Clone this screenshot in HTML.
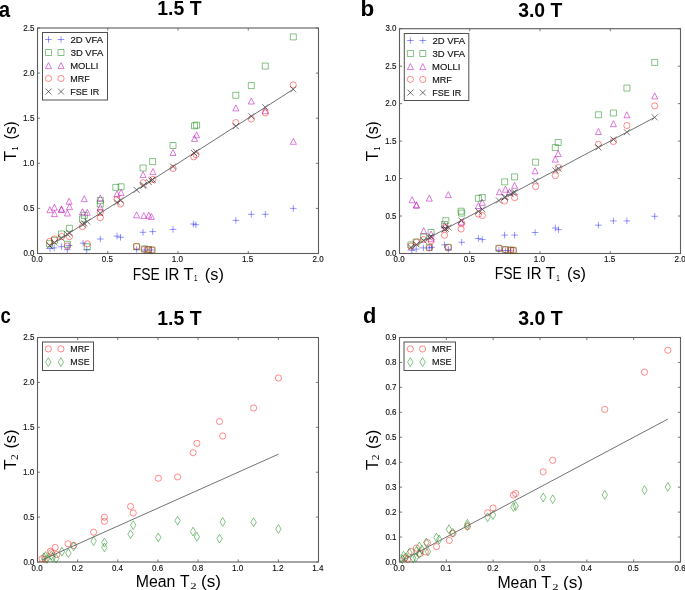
<!DOCTYPE html>
<html><head><meta charset="utf-8"><title>T1 T2 comparison</title>
<style>
html,body{margin:0;padding:0;background:#fff;}
body{width:685px;height:590px;overflow:hidden;}
svg{display:block;filter:blur(0.4px);font-family:"Liberation Sans", sans-serif;}
</style></head><body>
<svg width="685" height="590" viewBox="0 0 685 590">
<rect width="685" height="590" fill="#fff"/>
<path d="M37.50 253.5V250.9M37.50 28.0V30.6M107.75 253.5V250.9M107.75 28.0V30.6M178.00 253.5V250.9M178.00 28.0V30.6M248.25 253.5V250.9M248.25 28.0V30.6M318.50 253.5V250.9M318.50 28.0V30.6M37.5 253.50H40.1M318.5 253.50H315.9M37.5 208.40H40.1M318.5 208.40H315.9M37.5 163.30H40.1M318.5 163.30H315.9M37.5 118.20H40.1M318.5 118.20H315.9M37.5 73.10H40.1M318.5 73.10H315.9M37.5 28.00H40.1M318.5 28.00H315.9" stroke="#555" stroke-width="0.8" fill="none"/>
<rect x="37.5" y="28.0" width="281.0" height="225.5" fill="none" stroke="#5c5c5c" stroke-width="1.1"/>
<text x="31.59" y="262.00" font-family='"Liberation Sans", sans-serif' font-size="8.4" font-weight="normal" textLength="11.02" lengthAdjust="spacingAndGlyphs" fill="#111" stroke="#111" stroke-width="0.14">0.0</text><text x="101.84" y="262.00" font-family='"Liberation Sans", sans-serif' font-size="8.4" font-weight="normal" textLength="11.04" lengthAdjust="spacingAndGlyphs" fill="#111" stroke="#111" stroke-width="0.14">0.5</text><text x="171.78" y="262.00" font-family='"Liberation Sans", sans-serif' font-size="8.4" font-weight="normal" textLength="11.34" lengthAdjust="spacingAndGlyphs" fill="#111" stroke="#111" stroke-width="0.14">1.0</text><text x="242.03" y="262.00" font-family='"Liberation Sans", sans-serif' font-size="8.4" font-weight="normal" textLength="11.37" lengthAdjust="spacingAndGlyphs" fill="#111" stroke="#111" stroke-width="0.14">1.5</text><text x="312.50" y="262.00" font-family='"Liberation Sans", sans-serif' font-size="8.4" font-weight="normal" textLength="11.11" lengthAdjust="spacingAndGlyphs" fill="#111" stroke="#111" stroke-width="0.14">2.0</text><text x="23.39" y="256.10" font-family='"Liberation Sans", sans-serif' font-size="8.4" font-weight="normal" textLength="11.02" lengthAdjust="spacingAndGlyphs" fill="#111" stroke="#111" stroke-width="0.14">0.0</text><text x="23.39" y="211.00" font-family='"Liberation Sans", sans-serif' font-size="8.4" font-weight="normal" textLength="11.04" lengthAdjust="spacingAndGlyphs" fill="#111" stroke="#111" stroke-width="0.14">0.5</text><text x="23.08" y="165.90" font-family='"Liberation Sans", sans-serif' font-size="8.4" font-weight="normal" textLength="11.34" lengthAdjust="spacingAndGlyphs" fill="#111" stroke="#111" stroke-width="0.14">1.0</text><text x="23.08" y="120.80" font-family='"Liberation Sans", sans-serif' font-size="8.4" font-weight="normal" textLength="11.37" lengthAdjust="spacingAndGlyphs" fill="#111" stroke="#111" stroke-width="0.14">1.5</text><text x="23.30" y="75.70" font-family='"Liberation Sans", sans-serif' font-size="8.4" font-weight="normal" textLength="11.11" lengthAdjust="spacingAndGlyphs" fill="#111" stroke="#111" stroke-width="0.14">2.0</text><text x="23.30" y="30.60" font-family='"Liberation Sans", sans-serif' font-size="8.4" font-weight="normal" textLength="11.14" lengthAdjust="spacingAndGlyphs" fill="#111" stroke="#111" stroke-width="0.14">2.5</text>
<path d="M399.50 253.5V250.9M399.50 28.7V31.3M469.75 253.5V250.9M469.75 28.7V31.3M540.00 253.5V250.9M540.00 28.7V31.3M610.25 253.5V250.9M610.25 28.7V31.3M680.50 253.5V250.9M680.50 28.7V31.3M399.5 253.50H402.1M680.5 253.50H677.9M399.5 216.03H402.1M680.5 216.03H677.9M399.5 178.57H402.1M680.5 178.57H677.9M399.5 141.10H402.1M680.5 141.10H677.9M399.5 103.63H402.1M680.5 103.63H677.9M399.5 66.17H402.1M680.5 66.17H677.9M399.5 28.70H402.1M680.5 28.70H677.9" stroke="#555" stroke-width="0.8" fill="none"/>
<rect x="399.5" y="28.7" width="281.0" height="224.8" fill="none" stroke="#5c5c5c" stroke-width="1.1"/>
<text x="393.59" y="262.00" font-family='"Liberation Sans", sans-serif' font-size="8.4" font-weight="normal" textLength="11.02" lengthAdjust="spacingAndGlyphs" fill="#111" stroke="#111" stroke-width="0.14">0.0</text><text x="463.84" y="262.00" font-family='"Liberation Sans", sans-serif' font-size="8.4" font-weight="normal" textLength="11.04" lengthAdjust="spacingAndGlyphs" fill="#111" stroke="#111" stroke-width="0.14">0.5</text><text x="533.78" y="262.00" font-family='"Liberation Sans", sans-serif' font-size="8.4" font-weight="normal" textLength="11.34" lengthAdjust="spacingAndGlyphs" fill="#111" stroke="#111" stroke-width="0.14">1.0</text><text x="604.03" y="262.00" font-family='"Liberation Sans", sans-serif' font-size="8.4" font-weight="normal" textLength="11.37" lengthAdjust="spacingAndGlyphs" fill="#111" stroke="#111" stroke-width="0.14">1.5</text><text x="674.50" y="262.00" font-family='"Liberation Sans", sans-serif' font-size="8.4" font-weight="normal" textLength="11.11" lengthAdjust="spacingAndGlyphs" fill="#111" stroke="#111" stroke-width="0.14">2.0</text><text x="385.39" y="256.10" font-family='"Liberation Sans", sans-serif' font-size="8.4" font-weight="normal" textLength="11.02" lengthAdjust="spacingAndGlyphs" fill="#111" stroke="#111" stroke-width="0.14">0.0</text><text x="385.39" y="218.63" font-family='"Liberation Sans", sans-serif' font-size="8.4" font-weight="normal" textLength="11.04" lengthAdjust="spacingAndGlyphs" fill="#111" stroke="#111" stroke-width="0.14">0.5</text><text x="385.08" y="181.17" font-family='"Liberation Sans", sans-serif' font-size="8.4" font-weight="normal" textLength="11.34" lengthAdjust="spacingAndGlyphs" fill="#111" stroke="#111" stroke-width="0.14">1.0</text><text x="385.08" y="143.70" font-family='"Liberation Sans", sans-serif' font-size="8.4" font-weight="normal" textLength="11.37" lengthAdjust="spacingAndGlyphs" fill="#111" stroke="#111" stroke-width="0.14">1.5</text><text x="385.30" y="106.23" font-family='"Liberation Sans", sans-serif' font-size="8.4" font-weight="normal" textLength="11.11" lengthAdjust="spacingAndGlyphs" fill="#111" stroke="#111" stroke-width="0.14">2.0</text><text x="385.30" y="68.77" font-family='"Liberation Sans", sans-serif' font-size="8.4" font-weight="normal" textLength="11.14" lengthAdjust="spacingAndGlyphs" fill="#111" stroke="#111" stroke-width="0.14">2.5</text><text x="385.40" y="31.30" font-family='"Liberation Sans", sans-serif' font-size="8.4" font-weight="normal" textLength="11.01" lengthAdjust="spacingAndGlyphs" fill="#111" stroke="#111" stroke-width="0.14">3.0</text>
<path d="M37.50 562.0V559.4M37.50 337.5V340.1M77.64 562.0V559.4M77.64 337.5V340.1M117.79 562.0V559.4M117.79 337.5V340.1M157.93 562.0V559.4M157.93 337.5V340.1M198.07 562.0V559.4M198.07 337.5V340.1M238.21 562.0V559.4M238.21 337.5V340.1M278.36 562.0V559.4M278.36 337.5V340.1M318.50 562.0V559.4M318.50 337.5V340.1M37.5 562.00H40.1M318.5 562.00H315.9M37.5 517.10H40.1M318.5 517.10H315.9M37.5 472.20H40.1M318.5 472.20H315.9M37.5 427.30H40.1M318.5 427.30H315.9M37.5 382.40H40.1M318.5 382.40H315.9M37.5 337.50H40.1M318.5 337.50H315.9" stroke="#555" stroke-width="0.8" fill="none"/>
<rect x="37.5" y="337.5" width="281.0" height="224.5" fill="none" stroke="#5c5c5c" stroke-width="1.1"/>
<text x="31.59" y="570.50" font-family='"Liberation Sans", sans-serif' font-size="8.4" font-weight="normal" textLength="11.02" lengthAdjust="spacingAndGlyphs" fill="#111" stroke="#111" stroke-width="0.14">0.0</text><text x="71.73" y="570.50" font-family='"Liberation Sans", sans-serif' font-size="8.4" font-weight="normal" textLength="11.11" lengthAdjust="spacingAndGlyphs" fill="#111" stroke="#111" stroke-width="0.14">0.2</text><text x="111.88" y="570.50" font-family='"Liberation Sans", sans-serif' font-size="8.4" font-weight="normal" textLength="10.94" lengthAdjust="spacingAndGlyphs" fill="#111" stroke="#111" stroke-width="0.14">0.4</text><text x="152.02" y="570.50" font-family='"Liberation Sans", sans-serif' font-size="8.4" font-weight="normal" textLength="11.06" lengthAdjust="spacingAndGlyphs" fill="#111" stroke="#111" stroke-width="0.14">0.6</text><text x="192.16" y="570.50" font-family='"Liberation Sans", sans-serif' font-size="8.4" font-weight="normal" textLength="11.06" lengthAdjust="spacingAndGlyphs" fill="#111" stroke="#111" stroke-width="0.14">0.8</text><text x="231.99" y="570.50" font-family='"Liberation Sans", sans-serif' font-size="8.4" font-weight="normal" textLength="11.34" lengthAdjust="spacingAndGlyphs" fill="#111" stroke="#111" stroke-width="0.14">1.0</text><text x="272.13" y="570.50" font-family='"Liberation Sans", sans-serif' font-size="8.4" font-weight="normal" textLength="11.44" lengthAdjust="spacingAndGlyphs" fill="#111" stroke="#111" stroke-width="0.14">1.2</text><text x="312.28" y="570.50" font-family='"Liberation Sans", sans-serif' font-size="8.4" font-weight="normal" textLength="11.25" lengthAdjust="spacingAndGlyphs" fill="#111" stroke="#111" stroke-width="0.14">1.4</text><text x="23.39" y="564.60" font-family='"Liberation Sans", sans-serif' font-size="8.4" font-weight="normal" textLength="11.02" lengthAdjust="spacingAndGlyphs" fill="#111" stroke="#111" stroke-width="0.14">0.0</text><text x="23.39" y="519.70" font-family='"Liberation Sans", sans-serif' font-size="8.4" font-weight="normal" textLength="11.04" lengthAdjust="spacingAndGlyphs" fill="#111" stroke="#111" stroke-width="0.14">0.5</text><text x="23.08" y="474.80" font-family='"Liberation Sans", sans-serif' font-size="8.4" font-weight="normal" textLength="11.34" lengthAdjust="spacingAndGlyphs" fill="#111" stroke="#111" stroke-width="0.14">1.0</text><text x="23.08" y="429.90" font-family='"Liberation Sans", sans-serif' font-size="8.4" font-weight="normal" textLength="11.37" lengthAdjust="spacingAndGlyphs" fill="#111" stroke="#111" stroke-width="0.14">1.5</text><text x="23.30" y="385.00" font-family='"Liberation Sans", sans-serif' font-size="8.4" font-weight="normal" textLength="11.11" lengthAdjust="spacingAndGlyphs" fill="#111" stroke="#111" stroke-width="0.14">2.0</text><text x="23.30" y="340.10" font-family='"Liberation Sans", sans-serif' font-size="8.4" font-weight="normal" textLength="11.14" lengthAdjust="spacingAndGlyphs" fill="#111" stroke="#111" stroke-width="0.14">2.5</text>
<path d="M399.50 562.0V559.4M399.50 337.5V340.1M446.33 562.0V559.4M446.33 337.5V340.1M493.17 562.0V559.4M493.17 337.5V340.1M540.00 562.0V559.4M540.00 337.5V340.1M586.83 562.0V559.4M586.83 337.5V340.1M633.67 562.0V559.4M633.67 337.5V340.1M680.50 562.0V559.4M680.50 337.5V340.1M399.5 562.00H402.1M680.5 562.00H677.9M399.5 537.06H402.1M680.5 537.06H677.9M399.5 512.11H402.1M680.5 512.11H677.9M399.5 487.17H402.1M680.5 487.17H677.9M399.5 462.22H402.1M680.5 462.22H677.9M399.5 437.28H402.1M680.5 437.28H677.9M399.5 412.33H402.1M680.5 412.33H677.9M399.5 387.39H402.1M680.5 387.39H677.9M399.5 362.44H402.1M680.5 362.44H677.9M399.5 337.50H402.1M680.5 337.50H677.9" stroke="#555" stroke-width="0.8" fill="none"/>
<rect x="399.5" y="337.5" width="281.0" height="224.5" fill="none" stroke="#5c5c5c" stroke-width="1.1"/>
<text x="393.59" y="570.50" font-family='"Liberation Sans", sans-serif' font-size="8.4" font-weight="normal" textLength="11.02" lengthAdjust="spacingAndGlyphs" fill="#111" stroke="#111" stroke-width="0.14">0.0</text><text x="440.42" y="570.50" font-family='"Liberation Sans", sans-serif' font-size="8.4" font-weight="normal" textLength="11.10" lengthAdjust="spacingAndGlyphs" fill="#111" stroke="#111" stroke-width="0.14">0.1</text><text x="487.25" y="570.50" font-family='"Liberation Sans", sans-serif' font-size="8.4" font-weight="normal" textLength="11.11" lengthAdjust="spacingAndGlyphs" fill="#111" stroke="#111" stroke-width="0.14">0.2</text><text x="534.09" y="570.50" font-family='"Liberation Sans", sans-serif' font-size="8.4" font-weight="normal" textLength="11.06" lengthAdjust="spacingAndGlyphs" fill="#111" stroke="#111" stroke-width="0.14">0.3</text><text x="580.93" y="570.50" font-family='"Liberation Sans", sans-serif' font-size="8.4" font-weight="normal" textLength="10.94" lengthAdjust="spacingAndGlyphs" fill="#111" stroke="#111" stroke-width="0.14">0.4</text><text x="627.76" y="570.50" font-family='"Liberation Sans", sans-serif' font-size="8.4" font-weight="normal" textLength="11.04" lengthAdjust="spacingAndGlyphs" fill="#111" stroke="#111" stroke-width="0.14">0.5</text><text x="674.59" y="570.50" font-family='"Liberation Sans", sans-serif' font-size="8.4" font-weight="normal" textLength="11.06" lengthAdjust="spacingAndGlyphs" fill="#111" stroke="#111" stroke-width="0.14">0.6</text><text x="385.39" y="564.60" font-family='"Liberation Sans", sans-serif' font-size="8.4" font-weight="normal" textLength="11.02" lengthAdjust="spacingAndGlyphs" fill="#111" stroke="#111" stroke-width="0.14">0.0</text><text x="385.39" y="539.66" font-family='"Liberation Sans", sans-serif' font-size="8.4" font-weight="normal" textLength="11.10" lengthAdjust="spacingAndGlyphs" fill="#111" stroke="#111" stroke-width="0.14">0.1</text><text x="385.39" y="514.71" font-family='"Liberation Sans", sans-serif' font-size="8.4" font-weight="normal" textLength="11.11" lengthAdjust="spacingAndGlyphs" fill="#111" stroke="#111" stroke-width="0.14">0.2</text><text x="385.39" y="489.77" font-family='"Liberation Sans", sans-serif' font-size="8.4" font-weight="normal" textLength="11.06" lengthAdjust="spacingAndGlyphs" fill="#111" stroke="#111" stroke-width="0.14">0.3</text><text x="385.39" y="464.82" font-family='"Liberation Sans", sans-serif' font-size="8.4" font-weight="normal" textLength="10.94" lengthAdjust="spacingAndGlyphs" fill="#111" stroke="#111" stroke-width="0.14">0.4</text><text x="385.39" y="439.88" font-family='"Liberation Sans", sans-serif' font-size="8.4" font-weight="normal" textLength="11.04" lengthAdjust="spacingAndGlyphs" fill="#111" stroke="#111" stroke-width="0.14">0.5</text><text x="385.39" y="414.93" font-family='"Liberation Sans", sans-serif' font-size="8.4" font-weight="normal" textLength="11.06" lengthAdjust="spacingAndGlyphs" fill="#111" stroke="#111" stroke-width="0.14">0.6</text><text x="385.39" y="389.99" font-family='"Liberation Sans", sans-serif' font-size="8.4" font-weight="normal" textLength="11.11" lengthAdjust="spacingAndGlyphs" fill="#111" stroke="#111" stroke-width="0.14">0.7</text><text x="385.39" y="365.04" font-family='"Liberation Sans", sans-serif' font-size="8.4" font-weight="normal" textLength="11.06" lengthAdjust="spacingAndGlyphs" fill="#111" stroke="#111" stroke-width="0.14">0.8</text><text x="385.39" y="340.10" font-family='"Liberation Sans", sans-serif' font-size="8.4" font-weight="normal" textLength="11.09" lengthAdjust="spacingAndGlyphs" fill="#111" stroke="#111" stroke-width="0.14">0.9</text>
<g fill="none" stroke="#0000ff" stroke-opacity="0.52" stroke-width="0.8"><path d="M46.80 248.50H53.40M50.10 245.20V251.80"/><path d="M50.90 247.90H57.50M54.20 244.60V251.20"/><path d="M58.10 246.70H64.70M61.40 243.40V250.00"/><path d="M64.00 249.70H70.60M67.30 246.40V253.00"/><path d="M65.80 245.50H72.40M69.10 242.20V248.80"/><path d="M79.80 243.20H86.40M83.10 239.90V246.50"/><path d="M83.40 249.70H90.00M86.70 246.40V253.00"/><path d="M97.00 239.00H103.60M100.30 235.70V242.30"/><path d="M113.70 236.10H120.30M117.00 232.80V239.40"/><path d="M117.20 237.30H123.80M120.50 234.00V240.60"/><path d="M133.30 249.40H139.90M136.60 246.10V252.70"/><path d="M139.70 232.30H146.30M143.00 229.00V235.60"/><path d="M141.00 250.00H147.60M144.30 246.70V253.30"/><path d="M147.70 250.00H154.30M151.00 246.70V253.30"/><path d="M149.40 231.60H156.00M152.70 228.30V234.90"/><path d="M169.70 229.40H176.30M173.00 226.10V232.70"/><path d="M190.10 224.00H196.70M193.40 220.70V227.30"/><path d="M192.60 224.80H199.20M195.90 221.50V228.10"/><path d="M232.50 220.40H239.10M235.80 217.10V223.70"/><path d="M248.00 214.30H254.60M251.30 211.00V217.60"/><path d="M262.00 214.30H268.60M265.30 211.00V217.60"/><path d="M290.00 208.40H296.60M293.30 205.10V211.70"/></g>
<g fill="none" stroke="#008000" stroke-opacity="0.5" stroke-width="0.95"><path d="M46.50 240.70h6.00v6.00h-6.00Z"/><path d="M51.50 237.30h6.00v6.00h-6.00Z"/><path d="M58.50 231.00h6.00v6.00h-6.00Z"/><path d="M66.40 225.30h6.00v6.00h-6.00Z"/><path d="M64.60 241.30h6.00v6.00h-6.00Z"/><path d="M79.50 215.80h6.00v6.00h-6.00Z"/><path d="M81.30 212.30h6.00v6.00h-6.00Z"/><path d="M84.30 243.80h6.00v6.00h-6.00Z"/><path d="M97.30 197.40h6.00v6.00h-6.00Z"/><path d="M97.30 201.00h6.00v6.00h-6.00Z"/><path d="M112.80 184.40h6.00v6.00h-6.00Z"/><path d="M118.10 183.80h6.00v6.00h-6.00Z"/><path d="M133.60 243.80h6.00v6.00h-6.00Z"/><path d="M141.30 245.90h6.00v6.00h-6.00Z"/><path d="M145.50 246.50h6.00v6.00h-6.00Z"/><path d="M149.00 247.00h6.00v6.00h-6.00Z"/><path d="M140.10 165.00h6.00v6.00h-6.00Z"/><path d="M149.60 158.60h6.00v6.00h-6.00Z"/><path d="M170.00 142.50h6.00v6.00h-6.00Z"/><path d="M191.50 122.80h6.00v6.00h-6.00Z"/><path d="M193.60 122.10h6.00v6.00h-6.00Z"/><path d="M232.80 92.30h6.00v6.00h-6.00Z"/><path d="M248.30 82.60h6.00v6.00h-6.00Z"/><path d="M262.30 63.10h6.00v6.00h-6.00Z"/><path d="M290.30 33.90h6.00v6.00h-6.00Z"/></g>
<g fill="none" stroke="#bf00bf" stroke-opacity="0.55" stroke-width="0.95"><path d="M49.90 206.70L52.90 212.70L46.90 212.70Z"/><path d="M54.40 204.20L57.40 210.20L51.40 210.20Z"/><path d="M54.50 210.60L57.50 216.60L51.50 216.60Z"/><path d="M61.40 206.00L64.40 212.00L58.40 212.00Z"/><path d="M61.60 206.40L64.60 212.40L58.60 212.40Z"/><path d="M69.10 198.20L72.10 204.20L66.10 204.20Z"/><path d="M69.50 203.60L72.50 209.60L66.50 209.60Z"/><path d="M67.40 210.00L70.40 216.00L64.40 216.00Z"/><path d="M84.30 195.70L87.30 201.70L81.30 201.70Z"/><path d="M82.50 208.70L85.50 214.70L79.50 214.70Z"/><path d="M87.30 209.30L90.30 215.30L84.30 215.30Z"/><path d="M100.30 195.10L103.30 201.10L97.30 201.10Z"/><path d="M100.30 204.00L103.30 210.00L97.30 210.00Z"/><path d="M117.00 190.90L120.00 196.90L114.00 196.90Z"/><path d="M121.10 189.40L124.10 195.40L118.10 195.40Z"/><path d="M136.60 211.80L139.60 217.80L133.60 217.80Z"/><path d="M143.80 212.60L146.80 218.60L140.80 218.60Z"/><path d="M148.80 212.10L151.80 218.10L145.80 218.10Z"/><path d="M151.40 213.50L154.40 219.50L148.40 219.50Z"/><path d="M143.10 171.60L146.10 177.60L140.10 177.60Z"/><path d="M152.90 168.60L155.90 174.60L149.90 174.60Z"/><path d="M173.00 149.50L176.00 155.50L170.00 155.50Z"/><path d="M194.50 135.40L197.50 141.40L191.50 141.40Z"/><path d="M196.60 131.80L199.60 137.80L193.60 137.80Z"/><path d="M235.80 104.90L238.80 110.90L232.80 110.90Z"/><path d="M251.30 98.00L254.30 104.00L248.30 104.00Z"/><path d="M265.30 107.70L268.30 113.70L262.30 113.70Z"/><path d="M293.40 138.30L296.40 144.30L290.40 144.30Z"/></g>
<g fill="none" stroke="#ff0000" stroke-opacity="0.48" stroke-width="0.95"><path d="M46.70 241.40a3.1 3.1 0 1 0 6.20 0a3.1 3.1 0 1 0 -6.20 0Z"/><path d="M51.10 239.00a3.1 3.1 0 1 0 6.20 0a3.1 3.1 0 1 0 -6.20 0Z"/><path d="M58.60 236.60a3.1 3.1 0 1 0 6.20 0a3.1 3.1 0 1 0 -6.20 0Z"/><path d="M66.30 236.60a3.1 3.1 0 1 0 6.20 0a3.1 3.1 0 1 0 -6.20 0Z"/><path d="M64.20 246.10a3.1 3.1 0 1 0 6.20 0a3.1 3.1 0 1 0 -6.20 0Z"/><path d="M79.40 226.60a3.1 3.1 0 1 0 6.20 0a3.1 3.1 0 1 0 -6.20 0Z"/><path d="M84.20 243.80a3.1 3.1 0 1 0 6.20 0a3.1 3.1 0 1 0 -6.20 0Z"/><path d="M97.20 212.30a3.1 3.1 0 1 0 6.20 0a3.1 3.1 0 1 0 -6.20 0Z"/><path d="M97.20 217.70a3.1 3.1 0 1 0 6.20 0a3.1 3.1 0 1 0 -6.20 0Z"/><path d="M113.90 199.30a3.1 3.1 0 1 0 6.20 0a3.1 3.1 0 1 0 -6.20 0Z"/><path d="M117.40 204.00a3.1 3.1 0 1 0 6.20 0a3.1 3.1 0 1 0 -6.20 0Z"/><path d="M133.50 246.30a3.1 3.1 0 1 0 6.20 0a3.1 3.1 0 1 0 -6.20 0Z"/><path d="M141.20 249.30a3.1 3.1 0 1 0 6.20 0a3.1 3.1 0 1 0 -6.20 0Z"/><path d="M145.30 249.70a3.1 3.1 0 1 0 6.20 0a3.1 3.1 0 1 0 -6.20 0Z"/><path d="M148.90 250.00a3.1 3.1 0 1 0 6.20 0a3.1 3.1 0 1 0 -6.20 0Z"/><path d="M140.00 182.80a3.1 3.1 0 1 0 6.20 0a3.1 3.1 0 1 0 -6.20 0Z"/><path d="M149.80 179.50a3.1 3.1 0 1 0 6.20 0a3.1 3.1 0 1 0 -6.20 0Z"/><path d="M169.90 168.50a3.1 3.1 0 1 0 6.20 0a3.1 3.1 0 1 0 -6.20 0Z"/><path d="M190.60 156.80a3.1 3.1 0 1 0 6.20 0a3.1 3.1 0 1 0 -6.20 0Z"/><path d="M192.80 154.60a3.1 3.1 0 1 0 6.20 0a3.1 3.1 0 1 0 -6.20 0Z"/><path d="M232.70 122.60a3.1 3.1 0 1 0 6.20 0a3.1 3.1 0 1 0 -6.20 0Z"/><path d="M248.20 119.00a3.1 3.1 0 1 0 6.20 0a3.1 3.1 0 1 0 -6.20 0Z"/><path d="M262.20 112.90a3.1 3.1 0 1 0 6.20 0a3.1 3.1 0 1 0 -6.20 0Z"/><path d="M290.10 84.90a3.1 3.1 0 1 0 6.20 0a3.1 3.1 0 1 0 -6.20 0Z"/></g>
<g fill="none" stroke="#000000" stroke-opacity="0.64" stroke-width="0.85"><path d="M46.70 242.67L52.70 248.67M46.70 248.67L52.70 242.67"/><path d="M51.40 239.65L57.40 245.65M51.40 245.65L57.40 239.65"/><path d="M58.40 235.16L64.40 241.16M58.40 241.16L64.40 235.16"/><path d="M64.40 231.30L70.40 237.30M64.40 237.30L70.40 231.30"/><path d="M66.40 230.02L72.40 236.02M66.40 236.02L72.40 230.02"/><path d="M79.50 221.61L85.50 227.61M79.50 227.61L85.50 221.61"/><path d="M81.30 220.45L87.30 226.45M81.30 226.45L87.30 220.45"/><path d="M84.30 218.53L90.30 224.53M84.30 224.53L90.30 218.53"/><path d="M97.30 210.18L103.30 216.18M97.30 216.18L103.30 210.18"/><path d="M114.00 199.46L120.00 205.46M114.00 205.46L120.00 199.46"/><path d="M117.50 197.21L123.50 203.21M117.50 203.21L123.50 197.21"/><path d="M133.60 186.88L139.60 192.88M133.60 192.88L139.60 186.88"/><path d="M140.10 182.71L146.10 188.71M140.10 188.71L146.10 182.71"/><path d="M140.80 182.26L146.80 188.26M140.80 188.26L146.80 182.26"/><path d="M145.80 179.05L151.80 185.05M145.80 185.05L151.80 179.05"/><path d="M148.40 177.38L154.40 183.38M148.40 183.38L154.40 177.38"/><path d="M149.60 176.61L155.60 182.61M149.60 182.61L155.60 176.61"/><path d="M170.00 163.51L176.00 169.51M170.00 169.51L176.00 163.51"/><path d="M191.00 150.03L197.00 156.03M191.00 156.03L197.00 150.03"/><path d="M193.00 148.74L199.00 154.74M193.00 154.74L199.00 148.74"/><path d="M232.80 123.19L238.80 129.19M232.80 129.19L238.80 123.19"/><path d="M248.30 113.24L254.30 119.24M248.30 119.24L254.30 113.24"/><path d="M262.30 104.25L268.30 110.25M262.30 110.25L268.30 104.25"/><path d="M290.20 86.34L296.20 92.34M290.20 92.34L296.20 86.34"/></g>
<line x1="49.7" y1="245.67" x2="293.2" y2="89.34" stroke="#6a6a6a" stroke-width="0.95"/>
<g fill="none" stroke="#0000ff" stroke-opacity="0.52" stroke-width="0.8"><path d="M408.50 250.30H415.10M411.80 247.00V253.60"/><path d="M412.90 249.10H419.50M416.20 245.80V252.40"/><path d="M420.10 247.90H426.70M423.40 244.60V251.20"/><path d="M426.00 247.90H432.60M429.30 244.60V251.20"/><path d="M428.40 247.30H435.00M431.70 244.00V250.60"/><path d="M441.20 244.90H447.80M444.50 241.60V248.20"/><path d="M445.00 249.30H451.60M448.30 246.00V252.60"/><path d="M458.40 242.30H465.00M461.70 239.00V245.60"/><path d="M475.10 238.50H481.70M478.40 235.20V241.80"/><path d="M479.00 239.60H485.60M482.30 236.30V242.90"/><path d="M495.60 250.30H502.20M498.90 247.00V253.60"/><path d="M501.30 235.10H507.90M504.60 231.80V238.40"/><path d="M502.10 250.50H508.70M505.40 247.20V253.80"/><path d="M507.40 250.80H514.00M510.70 247.50V254.10"/><path d="M511.30 235.10H517.90M514.60 231.80V238.40"/><path d="M531.80 232.50H538.40M535.10 229.20V235.80"/><path d="M552.00 228.00H558.60M555.30 224.70V231.30"/><path d="M555.20 229.60H561.80M558.50 226.30V232.90"/><path d="M595.10 225.20H601.70M598.40 221.90V228.50"/><path d="M610.10 220.90H616.70M613.40 217.60V224.20"/><path d="M623.60 220.90H630.20M626.90 217.60V224.20"/><path d="M651.40 216.30H658.00M654.70 213.00V219.60"/></g>
<g fill="none" stroke="#008000" stroke-opacity="0.5" stroke-width="0.95"><path d="M407.90 241.90h6.00v6.00h-6.00Z"/><path d="M413.20 239.00h6.00v6.00h-6.00Z"/><path d="M420.70 233.90h6.00v6.00h-6.00Z"/><path d="M428.10 229.50h6.00v6.00h-6.00Z"/><path d="M426.30 244.30h6.00v6.00h-6.00Z"/><path d="M441.50 221.50h6.00v6.00h-6.00Z"/><path d="M442.80 217.70h6.00v6.00h-6.00Z"/><path d="M458.10 208.20h6.00v6.00h-6.00Z"/><path d="M458.70 210.10h6.00v6.00h-6.00Z"/><path d="M445.30 244.40h6.00v6.00h-6.00Z"/><path d="M475.40 195.40h6.00v6.00h-6.00Z"/><path d="M479.30 194.60h6.00v6.00h-6.00Z"/><path d="M501.60 178.90h6.00v6.00h-6.00Z"/><path d="M511.60 173.90h6.00v6.00h-6.00Z"/><path d="M532.60 159.20h6.00v6.00h-6.00Z"/><path d="M552.30 144.60h6.00v6.00h-6.00Z"/><path d="M555.20 139.50h6.00v6.00h-6.00Z"/><path d="M495.90 245.30h6.00v6.00h-6.00Z"/><path d="M502.40 246.60h6.00v6.00h-6.00Z"/><path d="M507.70 247.10h6.00v6.00h-6.00Z"/><path d="M510.30 247.40h6.00v6.00h-6.00Z"/><path d="M595.40 111.80h6.00v6.00h-6.00Z"/><path d="M610.40 110.00h6.00v6.00h-6.00Z"/><path d="M623.90 85.10h6.00v6.00h-6.00Z"/><path d="M651.70 59.40h6.00v6.00h-6.00Z"/></g>
<g fill="none" stroke="#bf00bf" stroke-opacity="0.55" stroke-width="0.95"><path d="M412.10 196.70L415.10 202.70L409.10 202.70Z"/><path d="M416.30 201.80L419.30 207.80L413.30 207.80Z"/><path d="M416.50 202.20L419.50 208.20L413.50 208.20Z"/><path d="M429.30 195.10L432.30 201.10L426.30 201.10Z"/><path d="M448.30 191.60L451.30 197.60L445.30 197.60Z"/><path d="M423.70 227.70L426.70 233.70L420.70 233.70Z"/><path d="M431.10 231.00L434.10 237.00L428.10 237.00Z"/><path d="M431.10 235.70L434.10 241.70L428.10 241.70Z"/><path d="M444.50 222.20L447.50 228.20L441.50 228.20Z"/><path d="M461.10 219.00L464.10 225.00L458.10 225.00Z"/><path d="M478.40 202.50L481.40 208.50L475.40 208.50Z"/><path d="M482.30 199.30L485.30 205.30L479.30 205.30Z"/><path d="M499.40 188.80L502.40 194.80L496.40 194.80Z"/><path d="M505.40 186.20L508.40 192.20L502.40 192.20Z"/><path d="M509.40 188.80L512.40 194.80L506.40 194.80Z"/><path d="M514.60 182.30L517.60 188.30L511.60 188.30Z"/><path d="M535.10 167.80L538.10 173.80L532.10 173.80Z"/><path d="M555.20 156.10L558.20 162.10L552.20 162.10Z"/><path d="M558.20 150.50L561.20 156.50L555.20 156.50Z"/><path d="M598.40 128.50L601.40 134.50L595.40 134.50Z"/><path d="M613.40 120.70L616.40 126.70L610.40 126.70Z"/><path d="M626.90 111.80L629.90 117.80L623.90 117.80Z"/><path d="M654.70 92.90L657.70 98.90L651.70 98.90Z"/></g>
<g fill="none" stroke="#ff0000" stroke-opacity="0.48" stroke-width="0.95"><path d="M407.80 246.10a3.1 3.1 0 1 0 6.20 0a3.1 3.1 0 1 0 -6.20 0Z"/><path d="M413.40 242.00a3.1 3.1 0 1 0 6.20 0a3.1 3.1 0 1 0 -6.20 0Z"/><path d="M420.30 239.60a3.1 3.1 0 1 0 6.20 0a3.1 3.1 0 1 0 -6.20 0Z"/><path d="M428.00 240.80a3.1 3.1 0 1 0 6.20 0a3.1 3.1 0 1 0 -6.20 0Z"/><path d="M426.20 247.90a3.1 3.1 0 1 0 6.20 0a3.1 3.1 0 1 0 -6.20 0Z"/><path d="M441.40 235.30a3.1 3.1 0 1 0 6.20 0a3.1 3.1 0 1 0 -6.20 0Z"/><path d="M442.70 227.70a3.1 3.1 0 1 0 6.20 0a3.1 3.1 0 1 0 -6.20 0Z"/><path d="M458.00 229.00a3.1 3.1 0 1 0 6.20 0a3.1 3.1 0 1 0 -6.20 0Z"/><path d="M458.60 223.30a3.1 3.1 0 1 0 6.20 0a3.1 3.1 0 1 0 -6.20 0Z"/><path d="M445.20 247.40a3.1 3.1 0 1 0 6.20 0a3.1 3.1 0 1 0 -6.20 0Z"/><path d="M475.30 214.10a3.1 3.1 0 1 0 6.20 0a3.1 3.1 0 1 0 -6.20 0Z"/><path d="M479.20 215.50a3.1 3.1 0 1 0 6.20 0a3.1 3.1 0 1 0 -6.20 0Z"/><path d="M501.50 201.00a3.1 3.1 0 1 0 6.20 0a3.1 3.1 0 1 0 -6.20 0Z"/><path d="M511.50 197.60a3.1 3.1 0 1 0 6.20 0a3.1 3.1 0 1 0 -6.20 0Z"/><path d="M532.50 186.60a3.1 3.1 0 1 0 6.20 0a3.1 3.1 0 1 0 -6.20 0Z"/><path d="M552.20 175.50a3.1 3.1 0 1 0 6.20 0a3.1 3.1 0 1 0 -6.20 0Z"/><path d="M555.40 167.50a3.1 3.1 0 1 0 6.20 0a3.1 3.1 0 1 0 -6.20 0Z"/><path d="M495.80 248.30a3.1 3.1 0 1 0 6.20 0a3.1 3.1 0 1 0 -6.20 0Z"/><path d="M502.30 249.60a3.1 3.1 0 1 0 6.20 0a3.1 3.1 0 1 0 -6.20 0Z"/><path d="M507.60 250.10a3.1 3.1 0 1 0 6.20 0a3.1 3.1 0 1 0 -6.20 0Z"/><path d="M510.20 250.40a3.1 3.1 0 1 0 6.20 0a3.1 3.1 0 1 0 -6.20 0Z"/><path d="M595.30 144.30a3.1 3.1 0 1 0 6.20 0a3.1 3.1 0 1 0 -6.20 0Z"/><path d="M610.30 141.50a3.1 3.1 0 1 0 6.20 0a3.1 3.1 0 1 0 -6.20 0Z"/><path d="M623.80 125.50a3.1 3.1 0 1 0 6.20 0a3.1 3.1 0 1 0 -6.20 0Z"/><path d="M651.60 105.90a3.1 3.1 0 1 0 6.20 0a3.1 3.1 0 1 0 -6.20 0Z"/></g>
<g fill="none" stroke="#000000" stroke-opacity="0.64" stroke-width="0.85"><path d="M407.90 244.42L413.90 250.42M407.90 250.42L413.90 244.42"/><path d="M413.50 241.43L419.50 247.43M413.50 247.43L419.50 241.43"/><path d="M420.70 237.59L426.70 243.59M420.70 243.59L426.70 237.59"/><path d="M426.30 234.61L432.30 240.61M426.30 240.61L432.30 234.61"/><path d="M428.10 233.65L434.10 239.65M428.10 239.65L434.10 233.65"/><path d="M441.50 226.50L447.50 232.50M441.50 232.50L447.50 226.50"/><path d="M442.80 225.81L448.80 231.81M442.80 231.81L448.80 225.81"/><path d="M445.30 224.47L451.30 230.47M445.30 230.47L451.30 224.47"/><path d="M458.40 217.49L464.40 223.49M458.40 223.49L464.40 217.49"/><path d="M475.40 208.42L481.40 214.42M475.40 214.42L481.40 208.42"/><path d="M479.30 206.34L485.30 212.34M479.30 212.34L485.30 206.34"/><path d="M495.90 197.49L501.90 203.49M495.90 203.49L501.90 197.49"/><path d="M501.60 194.45L507.60 200.45M501.60 200.45L507.60 194.45"/><path d="M502.40 194.02L508.40 200.02M502.40 200.02L508.40 194.02"/><path d="M507.70 191.19L513.70 197.19M507.70 197.19L513.70 191.19"/><path d="M510.30 189.81L516.30 195.81M510.30 195.81L516.30 189.81"/><path d="M511.60 189.11L517.60 195.11M511.60 195.11L517.60 189.11"/><path d="M532.40 178.02L538.40 184.02M532.40 184.02L538.40 178.02"/><path d="M552.30 167.41L558.30 173.41M552.30 173.41L558.30 167.41"/><path d="M555.50 165.70L561.50 171.70M555.50 171.70L561.50 165.70"/><path d="M595.40 144.42L601.40 150.42M595.40 150.42L601.40 144.42"/><path d="M610.40 136.42L616.40 142.42M610.40 142.42L616.40 136.42"/><path d="M623.90 129.22L629.90 135.22M623.90 135.22L629.90 129.22"/><path d="M651.70 114.39L657.70 120.39M651.70 120.39L657.70 114.39"/></g>
<line x1="410.9" y1="247.42" x2="654.7" y2="117.39" stroke="#6a6a6a" stroke-width="0.95"/>
<g fill="none" stroke="#ff0000" stroke-opacity="0.48" stroke-width="0.95"><path d="M275.30 378.00a3.1 3.1 0 1 0 6.20 0a3.1 3.1 0 1 0 -6.20 0Z"/><path d="M250.50 408.00a3.1 3.1 0 1 0 6.20 0a3.1 3.1 0 1 0 -6.20 0Z"/><path d="M216.40 421.50a3.1 3.1 0 1 0 6.20 0a3.1 3.1 0 1 0 -6.20 0Z"/><path d="M219.60 436.00a3.1 3.1 0 1 0 6.20 0a3.1 3.1 0 1 0 -6.20 0Z"/><path d="M193.80 443.40a3.1 3.1 0 1 0 6.20 0a3.1 3.1 0 1 0 -6.20 0Z"/><path d="M190.00 452.70a3.1 3.1 0 1 0 6.20 0a3.1 3.1 0 1 0 -6.20 0Z"/><path d="M174.50 476.90a3.1 3.1 0 1 0 6.20 0a3.1 3.1 0 1 0 -6.20 0Z"/><path d="M155.20 478.20a3.1 3.1 0 1 0 6.20 0a3.1 3.1 0 1 0 -6.20 0Z"/><path d="M127.50 506.50a3.1 3.1 0 1 0 6.20 0a3.1 3.1 0 1 0 -6.20 0Z"/><path d="M130.10 513.00a3.1 3.1 0 1 0 6.20 0a3.1 3.1 0 1 0 -6.20 0Z"/><path d="M101.30 517.20a3.1 3.1 0 1 0 6.20 0a3.1 3.1 0 1 0 -6.20 0Z"/><path d="M101.30 521.40a3.1 3.1 0 1 0 6.20 0a3.1 3.1 0 1 0 -6.20 0Z"/><path d="M90.50 532.20a3.1 3.1 0 1 0 6.20 0a3.1 3.1 0 1 0 -6.20 0Z"/><path d="M65.00 543.70a3.1 3.1 0 1 0 6.20 0a3.1 3.1 0 1 0 -6.20 0Z"/><path d="M70.50 545.50a3.1 3.1 0 1 0 6.20 0a3.1 3.1 0 1 0 -6.20 0Z"/><path d="M52.10 547.50a3.1 3.1 0 1 0 6.20 0a3.1 3.1 0 1 0 -6.20 0Z"/><path d="M47.20 551.30a3.1 3.1 0 1 0 6.20 0a3.1 3.1 0 1 0 -6.20 0Z"/><path d="M48.30 552.80a3.1 3.1 0 1 0 6.20 0a3.1 3.1 0 1 0 -6.20 0Z"/><path d="M53.60 554.50a3.1 3.1 0 1 0 6.20 0a3.1 3.1 0 1 0 -6.20 0Z"/><path d="M39.00 558.60a3.1 3.1 0 1 0 6.20 0a3.1 3.1 0 1 0 -6.20 0Z"/><path d="M41.90 559.20a3.1 3.1 0 1 0 6.20 0a3.1 3.1 0 1 0 -6.20 0Z"/></g>
<g fill="none" stroke="#008000" stroke-opacity="0.5" stroke-width="0.95"><path d="M278.40 524.60L281.10 529.00L278.40 533.40L275.70 529.00Z"/><path d="M253.60 517.90L256.30 522.30L253.60 526.70L250.90 522.30Z"/><path d="M222.70 517.60L225.40 522.00L222.70 526.40L220.00 522.00Z"/><path d="M219.50 534.30L222.20 538.70L219.50 543.10L216.80 538.70Z"/><path d="M196.90 532.40L199.60 536.80L196.90 541.20L194.20 536.80Z"/><path d="M193.10 527.20L195.80 531.60L193.10 536.00L190.40 531.60Z"/><path d="M177.60 516.30L180.30 520.70L177.60 525.10L174.90 520.70Z"/><path d="M158.30 533.00L161.00 537.40L158.30 541.80L155.60 537.40Z"/><path d="M133.20 520.80L135.90 525.20L133.20 529.60L130.50 525.20Z"/><path d="M130.60 529.80L133.30 534.20L130.60 538.60L127.90 534.20Z"/><path d="M104.40 538.10L107.10 542.50L104.40 546.90L101.70 542.50Z"/><path d="M104.40 543.00L107.10 547.40L104.40 551.80L101.70 547.40Z"/><path d="M93.60 536.70L96.30 541.10L93.60 545.50L90.90 541.10Z"/><path d="M73.60 542.00L76.30 546.40L73.60 550.80L70.90 546.40Z"/><path d="M68.40 548.70L71.10 553.10L68.40 557.50L65.70 553.10Z"/><path d="M61.90 547.20L64.60 551.60L61.90 556.00L59.20 551.60Z"/><path d="M43.80 553.00L46.50 557.40L43.80 561.80L41.10 557.40Z"/><path d="M52.60 553.00L55.30 557.40L52.60 561.80L49.90 557.40Z"/><path d="M56.10 554.20L58.80 558.60L56.10 563.00L53.40 558.60Z"/><path d="M47.00 554.60L49.70 559.00L47.00 563.40L44.30 559.00Z"/><path d="M51.30 551.10L54.00 555.50L51.30 559.90L48.60 555.50Z"/><path d="M45.50 551.60L48.20 556.00L45.50 560.40L42.80 556.00Z"/></g>
<line x1="42.0" y1="559.99" x2="278.4" y2="454.22" stroke="#6a6a6a" stroke-width="0.95"/>
<g fill="none" stroke="#ff0000" stroke-opacity="0.48" stroke-width="0.95"><path d="M664.70 350.20a3.1 3.1 0 1 0 6.20 0a3.1 3.1 0 1 0 -6.20 0Z"/><path d="M641.40 372.20a3.1 3.1 0 1 0 6.20 0a3.1 3.1 0 1 0 -6.20 0Z"/><path d="M601.70 409.40a3.1 3.1 0 1 0 6.20 0a3.1 3.1 0 1 0 -6.20 0Z"/><path d="M549.60 460.30a3.1 3.1 0 1 0 6.20 0a3.1 3.1 0 1 0 -6.20 0Z"/><path d="M540.10 471.80a3.1 3.1 0 1 0 6.20 0a3.1 3.1 0 1 0 -6.20 0Z"/><path d="M512.60 493.50a3.1 3.1 0 1 0 6.20 0a3.1 3.1 0 1 0 -6.20 0Z"/><path d="M510.30 495.10a3.1 3.1 0 1 0 6.20 0a3.1 3.1 0 1 0 -6.20 0Z"/><path d="M489.90 508.00a3.1 3.1 0 1 0 6.20 0a3.1 3.1 0 1 0 -6.20 0Z"/><path d="M484.50 512.80a3.1 3.1 0 1 0 6.20 0a3.1 3.1 0 1 0 -6.20 0Z"/><path d="M464.30 526.50a3.1 3.1 0 1 0 6.20 0a3.1 3.1 0 1 0 -6.20 0Z"/><path d="M449.70 533.50a3.1 3.1 0 1 0 6.20 0a3.1 3.1 0 1 0 -6.20 0Z"/><path d="M446.20 540.40a3.1 3.1 0 1 0 6.20 0a3.1 3.1 0 1 0 -6.20 0Z"/><path d="M433.40 546.60a3.1 3.1 0 1 0 6.20 0a3.1 3.1 0 1 0 -6.20 0Z"/><path d="M424.30 542.60a3.1 3.1 0 1 0 6.20 0a3.1 3.1 0 1 0 -6.20 0Z"/><path d="M422.30 551.90a3.1 3.1 0 1 0 6.20 0a3.1 3.1 0 1 0 -6.20 0Z"/><path d="M413.30 548.10a3.1 3.1 0 1 0 6.20 0a3.1 3.1 0 1 0 -6.20 0Z"/><path d="M417.00 553.60a3.1 3.1 0 1 0 6.20 0a3.1 3.1 0 1 0 -6.20 0Z"/><path d="M408.00 551.60a3.1 3.1 0 1 0 6.20 0a3.1 3.1 0 1 0 -6.20 0Z"/><path d="M401.60 558.00a3.1 3.1 0 1 0 6.20 0a3.1 3.1 0 1 0 -6.20 0Z"/><path d="M404.50 559.20a3.1 3.1 0 1 0 6.20 0a3.1 3.1 0 1 0 -6.20 0Z"/></g>
<g fill="none" stroke="#008000" stroke-opacity="0.5" stroke-width="0.95"><path d="M667.80 482.60L670.50 487.00L667.80 491.40L665.10 487.00Z"/><path d="M644.50 485.70L647.20 490.10L644.50 494.50L641.80 490.10Z"/><path d="M604.80 490.40L607.50 494.80L604.80 499.20L602.10 494.80Z"/><path d="M552.70 494.80L555.40 499.20L552.70 503.60L550.00 499.20Z"/><path d="M543.20 493.10L545.90 497.50L543.20 501.90L540.50 497.50Z"/><path d="M515.70 501.60L518.40 506.00L515.70 510.40L513.00 506.00Z"/><path d="M513.40 502.60L516.10 507.00L513.40 511.40L510.70 507.00Z"/><path d="M493.00 510.70L495.70 515.10L493.00 519.50L490.30 515.10Z"/><path d="M487.60 512.80L490.30 517.20L487.60 521.60L484.90 517.20Z"/><path d="M467.40 519.40L470.10 523.80L467.40 528.20L464.70 523.80Z"/><path d="M467.40 521.60L470.10 526.00L467.40 530.40L464.70 526.00Z"/><path d="M448.90 524.90L451.60 529.30L448.90 533.70L446.20 529.30Z"/><path d="M452.80 528.40L455.50 532.80L452.80 537.20L450.10 532.80Z"/><path d="M436.50 533.20L439.20 537.60L436.50 542.00L433.80 537.60Z"/><path d="M439.20 535.10L441.90 539.50L439.20 543.90L436.50 539.50Z"/><path d="M426.30 538.20L429.00 542.60L426.30 547.00L423.60 542.60Z"/><path d="M428.00 547.20L430.70 551.60L428.00 556.00L425.30 551.60Z"/><path d="M419.30 542.00L422.00 546.40L419.30 550.80L416.60 546.40Z"/><path d="M416.40 546.60L419.10 551.00L416.40 555.40L413.70 551.00Z"/><path d="M419.30 549.50L422.00 553.90L419.30 558.30L416.60 553.90Z"/><path d="M409.30 548.40L412.00 552.80L409.30 557.20L406.60 552.80Z"/><path d="M403.50 551.30L406.20 555.70L403.50 560.10L400.80 555.70Z"/><path d="M405.80 553.00L408.50 557.40L405.80 561.80L403.10 557.40Z"/><path d="M415.80 553.00L418.50 557.40L415.80 561.80L413.10 557.40Z"/><path d="M413.20 553.80L415.90 558.20L413.20 562.60L410.50 558.20Z"/><path d="M402.40 554.80L405.10 559.20L402.40 563.60L399.70 559.20Z"/><path d="M421.80 545.20L424.50 549.60L421.80 554.00L419.10 549.60Z"/></g>
<line x1="401.5" y1="560.93" x2="667.8" y2="419.10" stroke="#6a6a6a" stroke-width="0.95"/>
<rect x="42.5" y="32.5" width="65.0" height="67.5" fill="#fff" stroke="#505050" stroke-width="1"/>
<g fill="none" stroke="#0000ff" stroke-opacity="0.52" stroke-width="0.8"><path d="M45.20 39.50H51.80M48.50 36.20V42.80"/><path d="M57.70 39.50H64.30M61.00 36.20V42.80"/></g>
<g fill="none" stroke="#008000" stroke-opacity="0.5" stroke-width="0.95"><path d="M45.50 49.50h6.00v6.00h-6.00Z"/><path d="M58.00 49.50h6.00v6.00h-6.00Z"/></g>
<g fill="none" stroke="#bf00bf" stroke-opacity="0.55" stroke-width="0.95"><path d="M48.50 62.60L51.50 68.60L45.50 68.60Z"/><path d="M61.00 62.60L64.00 68.60L58.00 68.60Z"/></g>
<g fill="none" stroke="#ff0000" stroke-opacity="0.48" stroke-width="0.95"><path d="M45.40 78.50a3.1 3.1 0 1 0 6.20 0a3.1 3.1 0 1 0 -6.20 0Z"/><path d="M57.90 78.50a3.1 3.1 0 1 0 6.20 0a3.1 3.1 0 1 0 -6.20 0Z"/></g>
<g fill="none" stroke="#000000" stroke-opacity="0.64" stroke-width="0.85"><path d="M45.50 88.60L51.50 94.60M45.50 94.60L51.50 88.60"/><path d="M58.00 88.60L64.00 94.60M58.00 94.60L64.00 88.60"/></g>
<text x="70.53" y="42.60" font-family='"Liberation Sans", sans-serif' font-size="8.6" font-weight="normal" textLength="32.69" lengthAdjust="spacingAndGlyphs" fill="#111" stroke="#111" stroke-width="0.14">2D VFA</text>
<text x="70.65" y="55.60" font-family='"Liberation Sans", sans-serif' font-size="8.6" font-weight="normal" textLength="32.57" lengthAdjust="spacingAndGlyphs" fill="#111" stroke="#111" stroke-width="0.14">3D VFA</text>
<text x="70.23" y="68.70" font-family='"Liberation Sans", sans-serif' font-size="8.6" font-weight="normal" textLength="28.24" lengthAdjust="spacingAndGlyphs" fill="#111" stroke="#111" stroke-width="0.14">MOLLI</text>
<text x="70.26" y="81.60" font-family='"Liberation Sans", sans-serif' font-size="8.6" font-weight="normal" textLength="19.50" lengthAdjust="spacingAndGlyphs" fill="#111" stroke="#111" stroke-width="0.14">MRF</text>
<text x="70.26" y="94.70" font-family='"Liberation Sans", sans-serif' font-size="8.6" font-weight="normal" textLength="28.95" lengthAdjust="spacingAndGlyphs" fill="#111" stroke="#111" stroke-width="0.14">FSE IR</text>
<rect x="404.3" y="33.5" width="64.5" height="67.0" fill="#fff" stroke="#505050" stroke-width="1"/>
<g fill="none" stroke="#0000ff" stroke-opacity="0.52" stroke-width="0.8"><path d="M407.10 40.50H413.70M410.40 37.20V43.80"/><path d="M419.50 40.50H426.10M422.80 37.20V43.80"/></g>
<g fill="none" stroke="#008000" stroke-opacity="0.5" stroke-width="0.95"><path d="M407.40 50.50h6.00v6.00h-6.00Z"/><path d="M419.80 50.50h6.00v6.00h-6.00Z"/></g>
<g fill="none" stroke="#bf00bf" stroke-opacity="0.55" stroke-width="0.95"><path d="M410.40 63.60L413.40 69.60L407.40 69.60Z"/><path d="M422.80 63.60L425.80 69.60L419.80 69.60Z"/></g>
<g fill="none" stroke="#ff0000" stroke-opacity="0.48" stroke-width="0.95"><path d="M407.30 79.40a3.1 3.1 0 1 0 6.20 0a3.1 3.1 0 1 0 -6.20 0Z"/><path d="M419.70 79.40a3.1 3.1 0 1 0 6.20 0a3.1 3.1 0 1 0 -6.20 0Z"/></g>
<g fill="none" stroke="#000000" stroke-opacity="0.64" stroke-width="0.85"><path d="M407.40 89.60L413.40 95.60M407.40 95.60L413.40 89.60"/><path d="M419.80 89.60L425.80 95.60M419.80 95.60L425.80 89.60"/></g>
<text x="432.43" y="43.60" font-family='"Liberation Sans", sans-serif' font-size="8.6" font-weight="normal" textLength="32.79" lengthAdjust="spacingAndGlyphs" fill="#111" stroke="#111" stroke-width="0.14">2D VFA</text>
<text x="432.54" y="56.60" font-family='"Liberation Sans", sans-serif' font-size="8.6" font-weight="normal" textLength="32.67" lengthAdjust="spacingAndGlyphs" fill="#111" stroke="#111" stroke-width="0.14">3D VFA</text>
<text x="432.13" y="69.70" font-family='"Liberation Sans", sans-serif' font-size="8.6" font-weight="normal" textLength="28.35" lengthAdjust="spacingAndGlyphs" fill="#111" stroke="#111" stroke-width="0.14">MOLLI</text>
<text x="432.16" y="82.50" font-family='"Liberation Sans", sans-serif' font-size="8.6" font-weight="normal" textLength="19.60" lengthAdjust="spacingAndGlyphs" fill="#111" stroke="#111" stroke-width="0.14">MRF</text>
<text x="432.16" y="95.70" font-family='"Liberation Sans", sans-serif' font-size="8.6" font-weight="normal" textLength="29.06" lengthAdjust="spacingAndGlyphs" fill="#111" stroke="#111" stroke-width="0.14">FSE IR</text>
<rect x="42.5" y="342.0" width="51.0" height="28.5" fill="#fff" stroke="#505050" stroke-width="1"/>
<g fill="none" stroke="#ff0000" stroke-opacity="0.48" stroke-width="0.95"><path d="M45.20 348.90a3.1 3.1 0 1 0 6.20 0a3.1 3.1 0 1 0 -6.20 0Z"/><path d="M57.80 348.90a3.1 3.1 0 1 0 6.20 0a3.1 3.1 0 1 0 -6.20 0Z"/></g>
<g fill="none" stroke="#008000" stroke-opacity="0.5" stroke-width="0.95"><path d="M48.30 357.70L51.00 362.10L48.30 366.50L45.60 362.10Z"/><path d="M60.90 357.70L63.60 362.10L60.90 366.50L58.20 362.10Z"/></g>
<text x="70.37" y="352.00" font-family='"Liberation Sans", sans-serif' font-size="8.6" font-weight="normal" textLength="19.18" lengthAdjust="spacingAndGlyphs" fill="#111" stroke="#111" stroke-width="0.14">MRF</text>
<text x="70.37" y="365.20" font-family='"Liberation Sans", sans-serif' font-size="8.6" font-weight="normal" textLength="19.21" lengthAdjust="spacingAndGlyphs" fill="#111" stroke="#111" stroke-width="0.14">MSE</text>
<rect x="404.0" y="342.0" width="51.5" height="28.5" fill="#fff" stroke="#505050" stroke-width="1"/>
<g fill="none" stroke="#ff0000" stroke-opacity="0.48" stroke-width="0.95"><path d="M407.20 348.90a3.1 3.1 0 1 0 6.20 0a3.1 3.1 0 1 0 -6.20 0Z"/><path d="M419.50 348.90a3.1 3.1 0 1 0 6.20 0a3.1 3.1 0 1 0 -6.20 0Z"/></g>
<g fill="none" stroke="#008000" stroke-opacity="0.5" stroke-width="0.95"><path d="M410.30 357.70L413.00 362.10L410.30 366.50L407.60 362.10Z"/><path d="M422.60 357.70L425.30 362.10L422.60 366.50L419.90 362.10Z"/></g>
<text x="432.06" y="352.00" font-family='"Liberation Sans", sans-serif' font-size="8.6" font-weight="normal" textLength="19.50" lengthAdjust="spacingAndGlyphs" fill="#111" stroke="#111" stroke-width="0.14">MRF</text>
<text x="432.06" y="365.20" font-family='"Liberation Sans", sans-serif' font-size="8.6" font-weight="normal" textLength="19.53" lengthAdjust="spacingAndGlyphs" fill="#111" stroke="#111" stroke-width="0.14">MSE</text>
<text x="157.28" y="15.00" font-family='"Liberation Sans", sans-serif' font-size="20" font-weight="bold" textLength="44.23" lengthAdjust="spacingAndGlyphs" fill="#000" >1.5 T</text>
<text x="518.26" y="16.70" font-family='"Liberation Sans", sans-serif' font-size="20" font-weight="bold" textLength="44.05" lengthAdjust="spacingAndGlyphs" fill="#000" >3.0 T</text>
<text x="157.28" y="324.90" font-family='"Liberation Sans", sans-serif' font-size="20" font-weight="bold" textLength="44.23" lengthAdjust="spacingAndGlyphs" fill="#000" >1.5 T</text>
<text x="518.25" y="324.90" font-family='"Liberation Sans", sans-serif' font-size="20" font-weight="bold" textLength="44.46" lengthAdjust="spacingAndGlyphs" fill="#000" >3.0 T</text>
<text x="-1.20" y="17.00" font-family='"Liberation Sans", sans-serif' font-size="21.5" font-weight="bold" textLength="11.37" lengthAdjust="spacingAndGlyphs" fill="#000" >a</text>
<text x="360.52" y="16.20" font-family='"Liberation Sans", sans-serif' font-size="21.5" font-weight="bold" textLength="13.70" lengthAdjust="spacingAndGlyphs" fill="#000" >b</text>
<text x="0.48" y="323.40" font-family='"Liberation Sans", sans-serif' font-size="21.5" font-weight="bold" textLength="10.26" lengthAdjust="spacingAndGlyphs" fill="#000" >c</text>
<text x="363.00" y="323.20" font-family='"Liberation Sans", sans-serif' font-size="21.5" font-weight="bold" textLength="13.33" lengthAdjust="spacingAndGlyphs" fill="#000" >d</text>
<text x="132.66" y="279.50" font-family='"Liberation Sans", sans-serif' font-size="16" font-weight="normal" textLength="27.04" lengthAdjust="spacingAndGlyphs" fill="#000" >FSE</text>
<text x="164.42" y="279.50" font-family='"Liberation Sans", sans-serif' font-size="16" font-weight="normal" textLength="14.98" lengthAdjust="spacingAndGlyphs" fill="#000" >IR</text>
<text x="183.53" y="279.50" font-family='"Liberation Sans", sans-serif' font-size="16" font-weight="normal" textLength="9.94" lengthAdjust="spacingAndGlyphs" fill="#000" >T</text>
<text x="194.12" y="280.70" font-family='"Liberation Sans", sans-serif' font-size="9.2" font-weight="normal" textLength="3.48" lengthAdjust="spacingAndGlyphs" fill="#000" >1</text>
<text x="204.89" y="279.50" font-family='"Liberation Sans", sans-serif' font-size="16" font-weight="normal" textLength="19.02" lengthAdjust="spacingAndGlyphs" fill="#000" >(s)</text>
<text x="494.76" y="279.40" font-family='"Liberation Sans", sans-serif' font-size="16" font-weight="normal" textLength="27.04" lengthAdjust="spacingAndGlyphs" fill="#000" >FSE</text>
<text x="526.52" y="279.40" font-family='"Liberation Sans", sans-serif' font-size="16" font-weight="normal" textLength="14.98" lengthAdjust="spacingAndGlyphs" fill="#000" >IR</text>
<text x="545.63" y="279.40" font-family='"Liberation Sans", sans-serif' font-size="16" font-weight="normal" textLength="9.94" lengthAdjust="spacingAndGlyphs" fill="#000" >T</text>
<text x="556.22" y="280.60" font-family='"Liberation Sans", sans-serif' font-size="9.2" font-weight="normal" textLength="3.48" lengthAdjust="spacingAndGlyphs" fill="#000" >1</text>
<text x="566.99" y="279.40" font-family='"Liberation Sans", sans-serif' font-size="16" font-weight="normal" textLength="19.02" lengthAdjust="spacingAndGlyphs" fill="#000" >(s)</text>
<text x="135.70" y="587.20" font-family='"Liberation Sans", sans-serif' font-size="16" font-weight="normal" textLength="39.73" lengthAdjust="spacingAndGlyphs" fill="#000" >Mean</text>
<text x="179.95" y="587.20" font-family='"Liberation Sans", sans-serif' font-size="16" font-weight="normal" textLength="9.51" lengthAdjust="spacingAndGlyphs" fill="#000" >T</text>
<text x="190.34" y="589.30" font-family='"Liberation Serif", serif' font-size="9.0" font-weight="normal" textLength="6.36" lengthAdjust="spacingAndGlyphs" fill="#000" >2</text>
<text x="200.94" y="587.20" font-family='"Liberation Sans", sans-serif' font-size="16" font-weight="normal" textLength="19.92" lengthAdjust="spacingAndGlyphs" fill="#000" >(s)</text>
<text x="497.40" y="588.30" font-family='"Liberation Sans", sans-serif' font-size="16" font-weight="normal" textLength="39.63" lengthAdjust="spacingAndGlyphs" fill="#000" >Mean</text>
<text x="541.23" y="588.30" font-family='"Liberation Sans", sans-serif' font-size="16" font-weight="normal" textLength="9.94" lengthAdjust="spacingAndGlyphs" fill="#000" >T</text>
<text x="552.15" y="590.40" font-family='"Liberation Serif", serif' font-size="9.0" font-weight="normal" textLength="6.24" lengthAdjust="spacingAndGlyphs" fill="#000" >2</text>
<text x="562.93" y="588.30" font-family='"Liberation Sans", sans-serif' font-size="16" font-weight="normal" textLength="20.14" lengthAdjust="spacingAndGlyphs" fill="#000" >(s)</text>
<g transform="translate(16.1,161.2) rotate(-90)"><text x="-0.39" y="0.00" font-family='"Liberation Sans", sans-serif' font-size="16" font-weight="normal" textLength="10.59" lengthAdjust="spacingAndGlyphs" fill="#000" >T</text><text x="10.92" y="1.70" font-family='"Liberation Sans", sans-serif' font-size="9.6" font-weight="normal" textLength="3.48" lengthAdjust="spacingAndGlyphs" fill="#000" >1</text><text x="21.62" y="0.00" font-family='"Liberation Sans", sans-serif' font-size="16" font-weight="normal" textLength="18.35" lengthAdjust="spacingAndGlyphs" fill="#000" >(s)</text></g>
<g transform="translate(377.9,161.2) rotate(-90)"><text x="-0.39" y="0.00" font-family='"Liberation Sans", sans-serif' font-size="16" font-weight="normal" textLength="10.59" lengthAdjust="spacingAndGlyphs" fill="#000" >T</text><text x="10.92" y="1.70" font-family='"Liberation Sans", sans-serif' font-size="9.6" font-weight="normal" textLength="3.48" lengthAdjust="spacingAndGlyphs" fill="#000" >1</text><text x="21.62" y="0.00" font-family='"Liberation Sans", sans-serif' font-size="16" font-weight="normal" textLength="18.35" lengthAdjust="spacingAndGlyphs" fill="#000" >(s)</text></g>
<g transform="translate(16.0,469.6) rotate(-90)"><text x="-0.39" y="0.00" font-family='"Liberation Sans", sans-serif' font-size="16" font-weight="normal" textLength="10.59" lengthAdjust="spacingAndGlyphs" fill="#000" >T</text><text x="9.70" y="1.70" font-family='"Liberation Serif", serif' font-size="9.6" font-weight="normal" textLength="5.74" lengthAdjust="spacingAndGlyphs" fill="#000" >2</text><text x="20.99" y="0.00" font-family='"Liberation Sans", sans-serif' font-size="16" font-weight="normal" textLength="19.02" lengthAdjust="spacingAndGlyphs" fill="#000" >(s)</text></g>
<g transform="translate(377.6,469.9) rotate(-90)"><text x="-0.39" y="0.00" font-family='"Liberation Sans", sans-serif' font-size="16" font-weight="normal" textLength="10.59" lengthAdjust="spacingAndGlyphs" fill="#000" >T</text><text x="9.70" y="1.70" font-family='"Liberation Serif", serif' font-size="9.6" font-weight="normal" textLength="5.74" lengthAdjust="spacingAndGlyphs" fill="#000" >2</text><text x="20.99" y="0.00" font-family='"Liberation Sans", sans-serif' font-size="16" font-weight="normal" textLength="19.02" lengthAdjust="spacingAndGlyphs" fill="#000" >(s)</text></g>
</svg>
</body></html>
